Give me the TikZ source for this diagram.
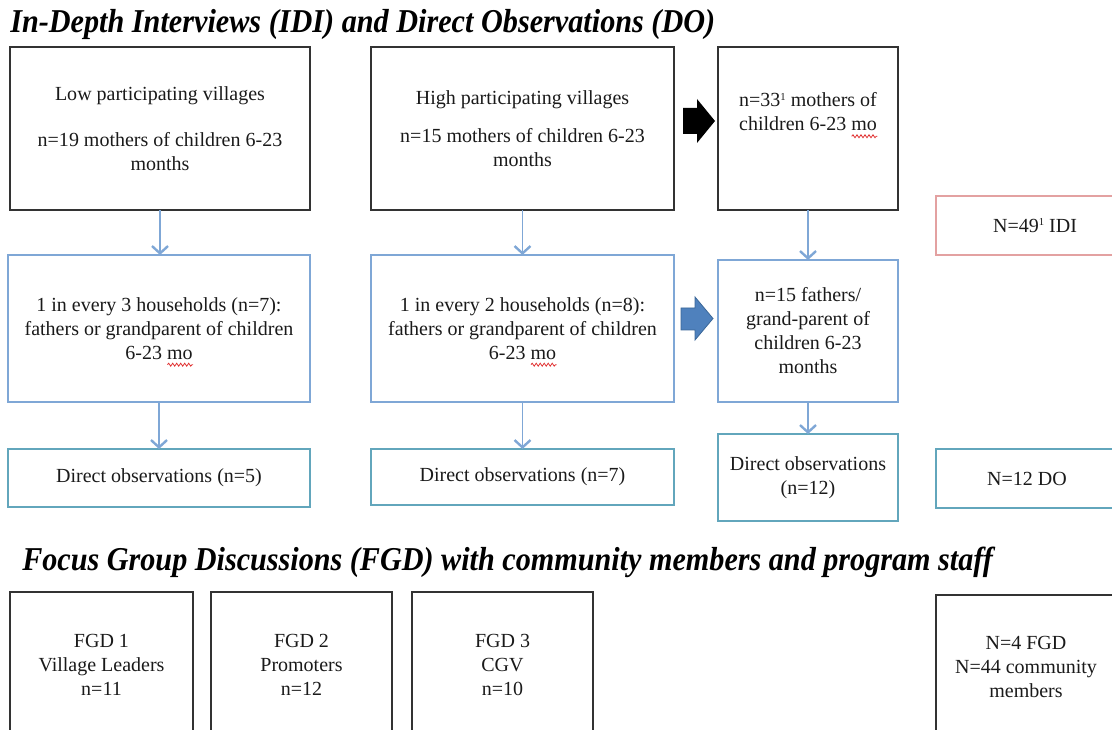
\documentclass[tikz,border=0pt]{standalone}
\usepackage{fontspec}
\setmainfont{Liberation Serif}
\usetikzlibrary{arrows.meta,decorations.pathmorphing}

\definecolor{boxgray}{HTML}{333333}
\definecolor{stepblue}{HTML}{7FA7D6}
\definecolor{obsteal}{HTML}{62A6BC}
\definecolor{idired}{HTML}{E3A1A1}
\definecolor{arrowfill}{HTML}{4F81BD}
\definecolor{arrowedge}{HTML}{3B6798}
\definecolor{inktext}{HTML}{1A1A1A}
\definecolor{wavered}{HTML}{E03030}

% red wavy spell-check underline under a word
\newsavebox\spellbox
\newlength\spellwd
\newcommand\spellmark[1]{%
  \sbox\spellbox{#1}\setlength\spellwd{\wd\spellbox}%
  \rlap{\smash{\tikz[baseline=0pt,x=1pt,y=1pt]
    \draw[wavered,line width=0.6pt,
      decoration={snake,amplitude=1.1pt,segment length=3pt}]
      decorate {(0pt,-4pt) -- (\spellwd,-4pt)};}}%
  \usebox\spellbox}

% small raised footnote mark
\newcommand\fnmark[1]{\raisebox{5pt}{\fontsize{8}{8}\selectfont #1}}

% box node from corner coordinates: name, x1, y1, x2, y2, style, text
\newcommand\bx[7]{%
  \node[#6, minimum width={(#4-#2)*0.75pt}, minimum height={(#5-#3)*0.75pt}]
    (#1) at ({(#2+#4)/2},{(#3+#5)/2}) {#7};}

\begin{document}
\begin{tikzpicture}[x=0.75pt,y=-0.75pt,
  base/.style={rectangle, inner sep=0pt, outer sep=0pt, align=center,
    text=inktext, font=\fontsize{15}{18}\selectfont},
  blackbox/.style={base, draw=boxgray, line width=1.5pt},
  bluebox/.style={base, draw=stepblue, line width=1.5pt},
  obsbox/.style={base, draw=obsteal, line width=1.5pt},
  redbox/.style={base, draw=idired, line width=1.5pt},
  txt/.style={inner sep=0pt, align=center, text=inktext,
    font=\fontsize{15}{18}\selectfont},
  flow/.style={draw=stepblue, line width=1.3pt,
    -{Straight Barb[length=5.5pt,width=12pt,line width=1.8pt]}},
  heading/.style={anchor=base west, inner sep=0pt, text=black,
    font=\fontsize{25}{28}\selectfont\bfseries\itshape}
]
\clip (0,0) rectangle (1112,730);

% section headings
\node[heading] (h1) at (10,33)
  {\resizebox{528.75pt}{\height}{In-Depth Interviews (IDI) and Direct Observations (DO)}};
\node[heading] (h2) at (22,570)
  {\resizebox{728pt}{\height}{Focus Group Discussions (FGD) with community members and program staff}};

% mothers
\bx{a1}{10}{47}{310}{210}{blackbox}{Low participating villages\\[17pt]
  n=19 mothers of children 6-23\\ months}
\bx{a2}{371}{47}{674}{210}{blackbox}{High participating villages\\[11pt]
  n=15 mothers of children 6-23\\ months}
\bx{a3}{718}{47}{898}{210}{blackbox}{}
\node[txt] (a3t) at (808,112) {n=33\fnmark{1} mothers of\\
  children 6-23 \spellmark{mo}};

% fathers / grandparents
\bx{b1}{8}{255}{310}{402}{bluebox}{1 in every 3 households (n=7):\\
  fathers or grandparent of children\\ 6-23 \spellmark{mo}}
\bx{b2}{371}{255}{674}{402}{bluebox}{1 in every 2 households (n=8):\\
  fathers or grandparent of children\\ 6-23 \spellmark{mo}}
\bx{b3}{718}{260}{898}{402}{bluebox}{\fontsize{15}{17}\selectfont
  n=15 fathers/\\ grand-parent of\\ children 6-23\\ months}

% direct observations
\bx{c1}{8}{449}{310}{507}{obsbox}{Direct observations (n=5)}
\bx{c2}{371}{449}{674}{505}{obsbox}{Direct observations (n=7)}
\bx{c3}{718}{434}{898}{521}{obsbox}{Direct observations\\ (n=12)}

% totals
\bx{r1}{936}{196}{1134}{255}{redbox}{N=49\fnmark{1} IDI}
\bx{r2}{936}{449}{1118}{508}{obsbox}{N=12 DO}

% vertical connectors
\draw[flow] (a1.south) -- (a1.south |- b1.north);
\draw[flow] (a2.south) -- (a2.south |- b2.north);
\draw[flow] (a3.south) -- (a3.south |- b3.north);
\draw[flow] (b1.south) -- (b1.south |- c1.north);
\draw[flow] (b2.south) -- (b2.south |- c2.north);
\draw[flow] (b3.south) -- (b3.south |- c3.north);

% block arrows into the pooled column
\fill[black] (683,108) -- (697,108) -- (697,99) -- (715,121) -- (697,143)
  -- (697,134) -- (683,134) -- cycle;
\filldraw[fill=arrowfill, draw=arrowedge, line width=0.6pt]
  (681,308) -- (695,308) -- (695,297) -- (713,318.5) -- (695,340)
  -- (695,330) -- (681,330) -- cycle;

% focus groups
\bx{f1}{10}{592}{193}{760}{blackbox}{}
\bx{f2}{211}{592}{392}{760}{blackbox}{}
\bx{f3}{412}{592}{593}{760}{blackbox}{}
\bx{f4}{936}{595}{1116}{760}{blackbox}{}
\node[txt] (f1t) at (101.5,665) {FGD 1\\ Village Leaders\\ n=11};
\node[txt] (f2t) at (301.5,665) {FGD 2\\ Promoters\\ n=12};
\node[txt] (f3t) at (502.5,665) {FGD 3\\ CGV\\ n=10};
\node[txt] (f4t) at (1026,667) {N=4 FGD\\ N=44 community\\ members};
\end{tikzpicture}
\end{document}
